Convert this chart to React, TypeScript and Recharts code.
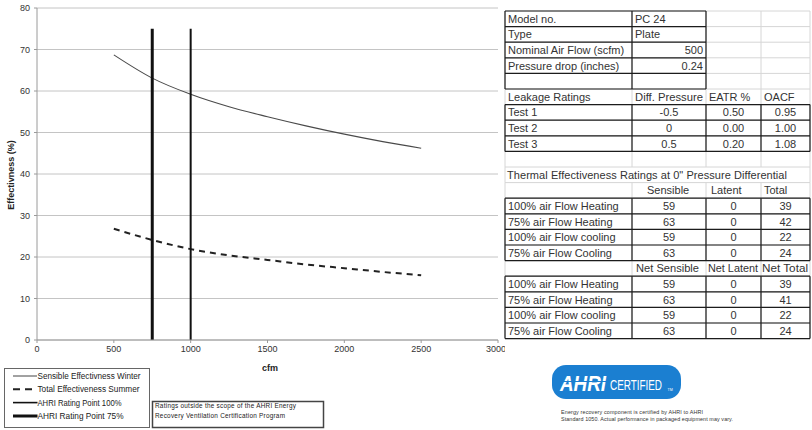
import React from 'react';
import { LineChart, Line, XAxis, YAxis, CartesianGrid } from 'recharts';

// ---------- chart data ----------
const cfmPoints = [500, 750, 1000, 1250, 1500, 1750, 2000, 2250, 2500];
const sensibleWinter = [68.7, 63.1, 59.2, 56.2, 53.8, 51.6, 49.6, 47.8, 46.2];
const totalSummer = [26.8, 24.1, 21.9, 20.4, 19.3, 18.2, 17.3, 16.4, 15.6];
const ratingPoint100Cfm = 1000;
const ratingPoint75Cfm = 750;
const ratingLineRange = [0, 75];
const xTicks = [0, 500, 1000, 1500, 2000, 2500, 3000];
const yTicks = [0, 10, 20, 30, 40, 50, 60, 70, 80];
const legendLabels = [
  'Sensible Effectivness Winter',
  'Total Effectiveness Summer',
  'AHRI Rating Point 100%',
  'AHRI Rating Point 75%',
];

// ---------- table data ----------
const specRows = [
  ['Model no.', 'PC 24'],
  ['Type', 'Plate'],
  ['Nominal Air Flow (scfm)', '500'],
  ['Pressure drop (inches)', '0.24'],
];
const leakageHeader = ['Leakage Ratings', 'Diff. Pressure', 'EATR %', 'OACF'];
const leakageRows = [
  ['Test 1', '-0.5', '0.50', '0.95'],
  ['Test 2', '0', '0.00', '1.00'],
  ['Test 3', '0.5', '0.20', '1.08'],
];
const thermalTitle = 'Thermal Effectiveness Ratings at 0" Pressure Differential';
const thermalHeader = ['', 'Sensible', 'Latent', 'Total'];
const thermalRows = [
  ['100% air Flow Heating', '59', '0', '39'],
  ['75% air Flow Heating', '63', '0', '42'],
  ['100% air Flow cooling', '59', '0', '22'],
  ['75% air Flow Cooling', '63', '0', '24'],
];
const netHeader = ['', 'Net Sensible', 'Net Latent', 'Net Total'];
const netRows = [
  ['100% air Flow Heating', '59', '0', '39'],
  ['75% air Flow Heating', '63', '0', '41'],
  ['100% air Flow cooling', '59', '0', '22'],
  ['75% air Flow Cooling', '63', '0', '24'],
];
const noteLines = ['Ratings outside the scope of the AHRI Energy', 'Recovery Ventilation Certification Program'];
const certLines = [
  'Energy recovery component is certified by AHRI to AHRI',
  'Standard 1050. Actual performance in packaged equipment may vary.',
];

const sensibleData = cfmPoints.map((c, i) => ({ cfm: c, v: sensibleWinter[i] }));
const totalData = cfmPoints.map((c, i) => ({ cfm: c, v: totalSummer[i] }));
const r100Data = ratingLineRange.map((v) => ({ cfm: ratingPoint100Cfm, v }));
const r75Data = ratingLineRange.map((v) => ({ cfm: ratingPoint75Cfm, v }));

const FONT = '"Liberation Sans", Arial, sans-serif';
const COLX = [505, 632, 706, 761, 810];
const RT = (i: number) => 11 + 15.6 * i;

function Table() {
  const els: React.ReactNode[] = [];
  let k = 0;
  const grid = '#d6d6d6';
  for (let i = 0; i <= 21; i++) {
    els.push(<line key={k++} x1={COLX[0]} x2={COLX[4]} y1={RT(i)} y2={RT(i)} stroke={grid} strokeWidth={1} />);
  }
  for (let r = 0; r <= 20; r++) {
    const cols = r === 10 ? [0, 4] : [0, 1, 2, 3, 4];
    cols.forEach((c) =>
      els.push(<line key={k++} x1={COLX[c]} x2={COLX[c]} y1={RT(r)} y2={RT(r + 1)} stroke={grid} strokeWidth={1} />)
    );
  }
  const box = (r0: number, r1: number, c0: number, c1: number) => {
    for (let r = r0; r <= r1 + 1; r++) {
      els.push(
        <line key={k++} x1={COLX[c0]} x2={COLX[c1 + 1]} y1={RT(r)} y2={RT(r)} stroke="#1c1c1c" strokeWidth={1.2} />
      );
    }
    for (let c = c0; c <= c1 + 1; c++) {
      els.push(
        <line key={k++} x1={COLX[c]} x2={COLX[c]} y1={RT(r0)} y2={RT(r1 + 1)} stroke="#1c1c1c" strokeWidth={1.2} />
      );
    }
  };
  box(0, 4, 0, 1);
  box(6, 8, 0, 3);
  box(12, 15, 0, 3);
  box(17, 20, 0, 3);

  const txt = (r: number, c: number, s: string, align: 'start' | 'middle' | 'end', dx = 0, len?: number) => {
    if (!s) return;
    let x = COLX[c] + 3;
    if (align === 'middle') x = (COLX[c] + COLX[c + 1]) / 2;
    if (align === 'end') x = COLX[c + 1] - 3;
    els.push(
      <text
        key={k++}
        x={x + dx}
        y={RT(r) + 11.8}
        textAnchor={align}
        fontSize={11}
        fill="#333"
        fontFamily={FONT}
        textLength={len}
        lengthAdjust={len ? 'spacingAndGlyphs' : undefined}
      >
        {s}
      </text>
    );
  };
  specRows.forEach((row, i) => {
    txt(i, 0, row[0], 'start');
    txt(i, 1, row[1], i < 2 ? 'start' : 'end');
  });
  txt(5, 0, leakageHeader[0], 'start');
  txt(5, 1, leakageHeader[1], 'start', 0, 68);
  txt(5, 2, leakageHeader[2], 'start');
  txt(5, 3, leakageHeader[3], 'start');
  leakageRows.forEach((row, i) => {
    txt(6 + i, 0, row[0], 'start');
    txt(6 + i, 1, row[1], 'middle');
    txt(6 + i, 2, row[2], 'middle');
    txt(6 + i, 3, row[3], 'middle');
  });
  els.push(
    <text key={k++} x={507} y={RT(10) + 11.8} fontSize={11} fill="#333" fontFamily={FONT} textLength={280} lengthAdjust="spacing">
      {thermalTitle}
    </text>
  );
  txt(11, 1, thermalHeader[1], 'start', 12);
  txt(11, 2, thermalHeader[2], 'start', 2);
  txt(11, 3, thermalHeader[3], 'start');
  thermalRows.forEach((row, i) => {
    txt(12 + i, 0, row[0], 'start');
    txt(12 + i, 1, row[1], 'middle');
    txt(12 + i, 2, row[2], 'middle');
    txt(12 + i, 3, row[3], 'middle');
  });
  txt(16, 1, netHeader[1], 'start', 1, 63);
  txt(16, 2, netHeader[2], 'start', -1, 50);
  txt(16, 3, netHeader[3], 'start', -2, 46);
  netRows.forEach((row, i) => {
    txt(17 + i, 0, row[0], 'start');
    txt(17 + i, 1, row[1], 'middle');
    txt(17 + i, 2, row[2], 'middle');
    txt(17 + i, 3, row[3], 'middle');
  });
  return <>{els}</>;
}

function Extras() {
  const lx = 13;
  return (
    <svg width={812} height={430} style={{ position: 'absolute', left: 0, top: 0, pointerEvents: 'none' }}>
      <text x={11} y={175} transform="rotate(-90 11 175)" textAnchor="middle" dominantBaseline="central" fontSize={9} fontWeight="bold" fill="#222" fontFamily={FONT}>
        Effectivness (%)
      </text>
      <text x={270} y={371} textAnchor="middle" fontSize={9} fontWeight="bold" fill="#222" fontFamily={FONT}>
        cfm
      </text>
      {/* legend */}
      <rect x={4.5} y={368.5} width={145} height={59} fill="none" stroke="#666" strokeWidth={1} />
      <line x1={lx} x2={37} y1={376} y2={376} stroke="#444" strokeWidth={1} />
      <line x1={lx} x2={33} y1={389.3} y2={389.3} stroke="#222" strokeWidth={2} strokeDasharray="7 5" />
      <line x1={lx} x2={37.5} y1={402.6} y2={402.6} stroke="#111" strokeWidth={1.6} />
      <line x1={lx} x2={37.5} y1={416} y2={416} stroke="#111" strokeWidth={3} />
      {legendLabels.map((s, i) => (
        <text key={i} x={37.5} y={379 + i * 13.33} fontSize={8.4} fill="#222" fontFamily={FONT} textLength={[103, 102, 84, 86][i]} lengthAdjust="spacingAndGlyphs">
          {s}
        </text>
      ))}
      {/* note box */}
      <rect x={152.5} y={401.5} width={171} height={26} fill="none" stroke="#444" strokeWidth={1.5} />
      <text x={155} y={408.3} fontSize={6.4} fill="#222" fontFamily={FONT} textLength={141} lengthAdjust="spacing">
        {noteLines[0]}
      </text>
      <text x={155} y={417.6} fontSize={6.4} fill="#222" fontFamily={FONT} textLength={130} lengthAdjust="spacing">
        {noteLines[1]}
      </text>
      <Table />
      {/* AHRI logo */}
      <rect x={552} y={365} width={129} height={34} rx={14} fill="#1b7fd1" />
      <text x={560} y={391} fontSize={22} fontWeight={900} fontStyle="italic" fill="#fff" fontFamily={FONT} textLength={46} lengthAdjust="spacingAndGlyphs">
        AHRI
      </text>
      <line x1={558} x2={608} y1={381.5} y2={381.5} stroke="#1b7fd1" strokeWidth={1.2} />
      <text transform="translate(610 389.5) scale(0.66 1)" x={0} y={0} fontSize={15} fill="#fff" fontFamily={FONT}>
        CERTIFIED
      </text>
      <text x={667.5} y={391} fontSize={3.6} fill="#fff" fontFamily={FONT}>
        TM
      </text>
      <text x={561} y={413.5} fontSize={5.4} fill="#333" fontFamily={FONT} textLength={142} lengthAdjust="spacing">
        {certLines[0]}
      </text>
      <text x={561} y={421} fontSize={5.4} fill="#333" fontFamily={FONT} textLength={172} lengthAdjust="spacing">
        {certLines[1]}
      </text>
    </svg>
  );
}

export default function App() {
  return (
    <div style={{ position: 'absolute', left: 0, top: 0, width: 812, height: 430, background: '#fff', fontFamily: FONT }}>
      <div style={{ position: 'absolute', left: 0, top: 0 }}>
        <LineChart width={505} height={365} margin={{ top: 8, right: 7, bottom: 5, left: 7 }}>
          <CartesianGrid vertical={false} stroke="#c4c4c4" strokeWidth={1} />
          <XAxis
            type="number"
            dataKey="cfm"
            domain={[0, 3000]}
            ticks={xTicks}
            height={20}
            tickSize={3}
            tickMargin={3}
            axisLine={{ stroke: '#9a9a9a' }}
            tickLine={{ stroke: '#9a9a9a' }}
            tick={{ fontSize: 9, fill: '#333', fontFamily: FONT }}
            allowDataOverflow
          />
          <YAxis
            type="number"
            domain={[0, 80]}
            ticks={yTicks}
            width={30}
            tickSize={3}
            tickMargin={4}
            axisLine={{ stroke: '#9a9a9a' }}
            tickLine={{ stroke: '#9a9a9a' }}
            tick={{ fontSize: 9, fill: '#333', fontFamily: FONT }}
          />
          <Line data={sensibleData} dataKey="v" type="monotone" stroke="#4a4a4a" strokeWidth={1.1} dot={false} activeDot={false} isAnimationActive={false} />
          <Line data={totalData} dataKey="v" type="monotone" stroke="#222" strokeWidth={2} strokeDasharray="6 5" dot={false} activeDot={false} isAnimationActive={false} />
          <Line data={r100Data} dataKey="v" type="linear" stroke="#111" strokeWidth={2} dot={false} activeDot={false} isAnimationActive={false} />
          <Line data={r75Data} dataKey="v" type="linear" stroke="#111" strokeWidth={3} dot={false} activeDot={false} isAnimationActive={false} />
        </LineChart>
      </div>
      <Extras />
    </div>
  );
}
